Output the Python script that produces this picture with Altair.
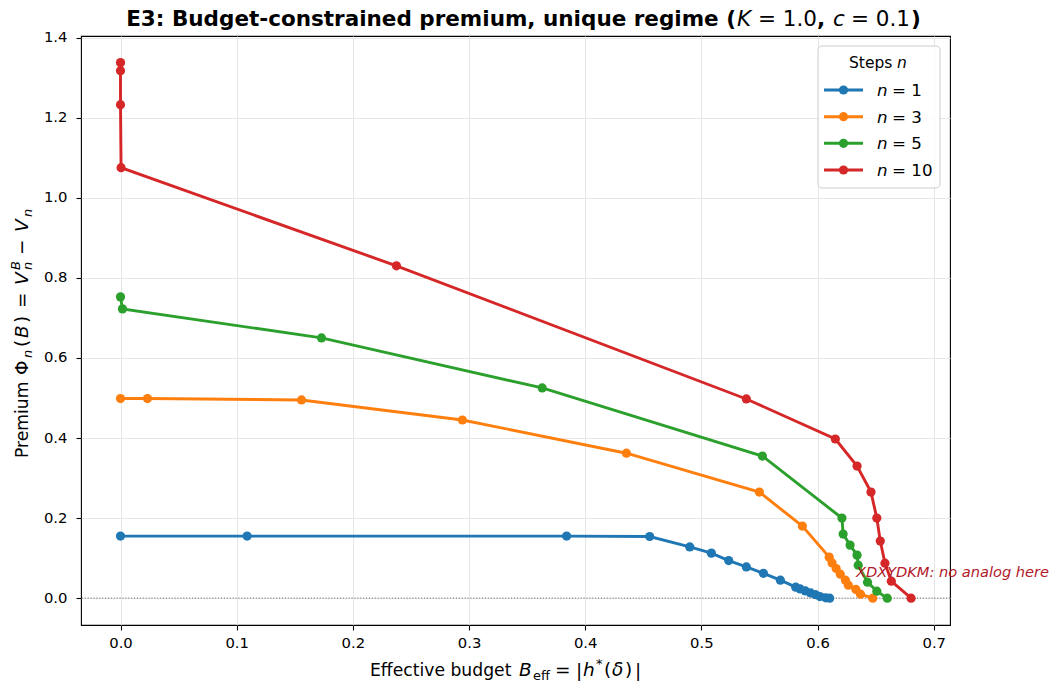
import altair as alt
import pandas as pd

FONT = "DejaVu Sans"

# Series: effective budget B_eff and premium Phi_n(B) for each number of steps
steps = ["1", "3", "5", "10"]
colors = ["#1f77b4", "#ff7f0e", "#2ca02c", "#d62728"]

budget_n1 = [0.0, 0.109, 0.384, 0.4555, 0.490, 0.5086, 0.5235, 0.5387, 0.5534,
             0.568, 0.5812, 0.585, 0.5895, 0.594, 0.598, 0.602, 0.607, 0.6104]
premium_n1 = [0.155, 0.155, 0.155, 0.154, 0.128, 0.1125, 0.094, 0.078, 0.062,
              0.045, 0.0275, 0.023, 0.018, 0.013, 0.009, 0.004, 0.001, 0.0]

budget_n3 = [0.0, 0.0232, 0.1558, 0.2943, 0.4355, 0.5499, 0.5869, 0.610,
             0.6125, 0.616, 0.6196, 0.624, 0.6265, 0.633, 0.637, 0.6475]
premium_n3 = [0.4985, 0.4985, 0.495, 0.445, 0.362, 0.265, 0.18, 0.1025,
              0.088, 0.074, 0.060, 0.045, 0.0325, 0.0217, 0.010, 0.0]

budget_n5 = [0.0, 0.0017, 0.173, 0.363, 0.5525, 0.621, 0.622, 0.628, 0.634,
             0.635, 0.643, 0.651, 0.660]
premium_n5 = [0.7525, 0.7225, 0.65, 0.525, 0.355, 0.2, 0.16, 0.1325, 0.1075,
              0.0825, 0.04, 0.0175, 0.0]

budget_n10 = [0.0, 0.0, 0.0, 0.0005, 0.2375, 0.5387, 0.6153, 0.634, 0.646,
              0.651, 0.654, 0.658, 0.6635, 0.6805]
premium_n10 = [1.3375, 1.3175, 1.2325, 1.075, 0.83, 0.4975, 0.3975, 0.33, 0.265,
               0.2, 0.1425, 0.0875, 0.0425, 0.0]

x_ticks = [0.0, 0.1, 0.2, 0.3, 0.4, 0.5, 0.6, 0.7]
y_ticks = [0.0, 0.2, 0.4, 0.6, 0.8, 1.0, 1.2, 1.4]

note_text = ["XDXYDKM: no analog here"]
note_budget = [0.633]
note_premium = [0.064]

zero_level = [0.0]

# ---------------------------------------------------------------- layout
W, H = 869, 589
LEFT, TOP = 81, 36
LW, MS = 2.9, 85          # line width, marker area

series_x = [budget_n1, budget_n3, budget_n5, budget_n10]
series_y = [premium_n1, premium_n3, premium_n5, premium_n10]

frames = []
for s, xs, ys in zip(steps, series_x, series_y):
    frames.append(pd.DataFrame({"steps": s, "budget": xs, "premium": ys,
                                "order": list(range(len(xs)))}))
data = pd.concat(frames, ignore_index=True)

x_enc = alt.X("budget:Q",
              scale=alt.Scale(domain=[-0.034, 0.714], nice=False, zero=False),
              axis=alt.Axis(values=x_ticks, format=".1f", title=None,
                            labelPadding=5))
y_enc = alt.Y("premium:Q",
              scale=alt.Scale(domain=[-0.067, 1.404], nice=False, zero=False),
              axis=alt.Axis(values=y_ticks, format=".1f", title=None,
                            labelPadding=9))

layers = []

# dotted reference line at zero premium
layers.append(
    alt.Chart(pd.DataFrame({"premium": zero_level}))
    .mark_rule(color="#808080", strokeWidth=1.1, strokeDash=[1.1, 1.8])
    .encode(y=y_enc)
)

# one line + markers per number of steps
for s, c in zip(steps, colors):
    base = alt.Chart(data).transform_filter(alt.datum.steps == s)
    layers.append(base.mark_line(color=c, strokeWidth=LW)
                  .encode(x=x_enc, y=y_enc, order="order:Q"))
    layers.append(base.mark_circle(color=c, size=MS, opacity=1)
                  .encode(x=x_enc, y=y_enc))

# annotation in data coordinates
layers.append(
    alt.Chart(pd.DataFrame({"budget": note_budget, "premium": note_premium,
                            "note": note_text}))
    .mark_text(font=FONT, fontSize=14.6, fontStyle="italic", color="#b2182b",
               align="left", baseline="middle")
    .encode(x=x_enc, y=y_enc, text="note:N")
)

one = pd.DataFrame({"k": [0]})


def piece(text, px, py, size=17.2, style="normal", weight="normal",
          align="left", angle=0, color="black", baseline="alphabetic"):
    """A fragment of text placed at page pixel (px, py)."""
    return (alt.Chart(one)
            .mark_text(text=text, font=FONT, fontSize=size, fontStyle=style,
                       fontWeight=weight, align=align, baseline=baseline,
                       angle=angle, color=color)
            .encode(x=alt.value(px - LEFT), y=alt.value(py - TOP)))


# title: bold prose followed by math-style parameters
TS = 21.5
tb = 26
X0 = 736
layers += [
    piece("E3: Budget-constrained premium, unique regime (", X0, tb, TS,
          weight="bold", align="right"),
    piece("K", X0 + 1, tb, TS, style="italic"),
    piece("= 1.0", X0 + 22, tb, TS),
    piece(",", X0 + 81, tb, TS, weight="bold"),
    piece("c", X0 + 97, tb, TS, style="italic"),
    piece("= 0.1", X0 + 115, tb, TS),
    piece(")", X0 + 175, tb, TS, weight="bold"),
]

# x-axis title: Effective budget B_eff = |h*(delta)|
xb = 676
M, S = 18.5, 13
layers += [
    piece("Effective budget", 370, xb),
    piece("B", 519, xb, M, style="italic"),
    piece("eff", 533, xb + 4, S),
    piece("=", 555, xb, M),
    piece("|", 576, xb + 1, M),
    piece("h", 583, xb, M, style="italic"),
    piece("*", 596, xb - 8, S),
    piece("(", 604, xb, M),
    piece("\u03b4", 612, xb, M, style="italic"),
    piece(")", 625, xb, M),
    piece("|", 635, xb + 1, M),
]

# y-axis title (rotated): Premium Phi_n(B) = V_n^B - V_n
yb = 28
layers += [
    piece("Premium", yb, 458, angle=270),
    piece("\u03a6", yb, 375, M, angle=270),
    piece("n", yb + 4, 358, S, style="italic", angle=270),
    piece("(", yb, 347, M, angle=270),
    piece("B", yb, 338, M, style="italic", angle=270),
    piece(")", yb, 323, M, angle=270),
    piece("=", yb, 308, M, angle=270),
    piece("V", yb, 285, M, style="italic", angle=270),
    piece("B", yb - 8, 270, S, style="italic", angle=270),
    piece("n", yb + 4, 270, S, style="italic", angle=270),
    piece("\u2212", yb, 255, M, angle=270),
    piece("V", yb, 232, M, style="italic", angle=270),
    piece("n", yb + 4, 217, S, style="italic", angle=270),
]

# legend
layers.append(
    alt.Chart(one)
    .mark_rect(fill="white", fillOpacity=0.8, stroke="#cccccc", strokeWidth=1,
               cornerRadius=4)
    .encode(x=alt.value(818 - LEFT), x2=alt.value(940 - LEFT),
            y=alt.value(46 - TOP), y2=alt.value(188 - TOP))
)
layers += [
    piece("Steps", 849, 68, 15.5),
    piece("n", 897, 68, 15.5, style="italic"),
]
row_y = [90, 116.7, 143.3, 170]
for s, c, ry in zip(steps, colors, row_y):
    layers.append(
        alt.Chart(one).mark_rule(color=c, strokeWidth=LW)
        .encode(x=alt.value(824 - LEFT), x2=alt.value(863 - LEFT),
                y=alt.value(ry - TOP))
    )
    layers.append(
        alt.Chart(one).mark_circle(color=c, size=MS, opacity=1)
        .encode(x=alt.value(843.5 - LEFT), y=alt.value(ry - TOP))
    )
    layers.append(piece("n", 877, ry + 6, 16.7, style="italic"))
    layers.append(piece("= " + s, 892, ry + 6, 16.7))

chart = (
    alt.layer(*layers)
    .properties(width=W, height=H,
                autosize=alt.AutoSizeParams(type="none"),
                padding={"left": LEFT, "top": TOP,
                         "right": 1053 - LEFT - W, "bottom": 688 - TOP - H})
    .configure_view(stroke="black", strokeWidth=1.1)
    .configure_axis(grid=True, gridColor="#e6e6e6", gridWidth=1,
                    domain=False, tickColor="black", tickSize=5, tickWidth=1.1,
                    labelFont=FONT, labelFontSize=14.8, labelColor="black")
)

chart.save("out.html", embed_options={"renderer": "svg", "actions": False})
